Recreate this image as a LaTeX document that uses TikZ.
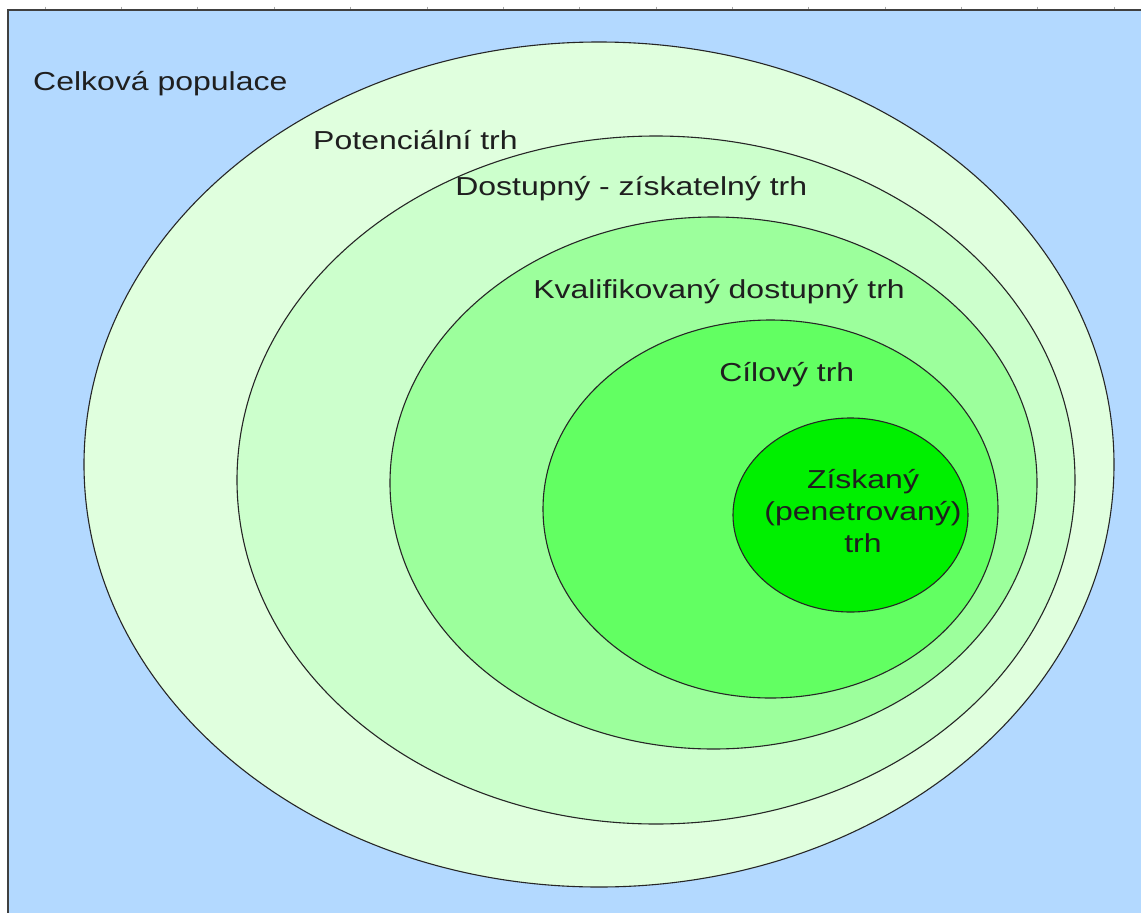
\documentclass[tikz,border=0pt]{standalone}
\usepackage{fontspec}
\setmainfont{Liberation Sans}
\usepackage{xcolor}
\usepackage{tikz}

\definecolor{popblue}{RGB}{179,217,255}
\definecolor{trhA}{RGB}{224,255,222}
\definecolor{trhB}{RGB}{204,255,204}
\definecolor{trhC}{RGB}{156,255,156}
\definecolor{trhD}{RGB}{98,255,98}
\definecolor{trhE}{RGB}{0,240,0}

\begin{document}
\begin{tikzpicture}[x=1pt,y=-1pt,
        ring/.style={draw=black!85,line width=1.1pt},
        lbl/.style={anchor=base west,inner sep=0pt,text=black!88,
            font=\fontsize{26}{32}\selectfont,xscale=1.23}]
    \useasboundingbox (0,0) rectangle (1141,913);
    \clip (0,0) rectangle (1141,913);

    % ruler ticks and frame
    \foreach \k in {0,...,14}
        \draw[black!35,line width=0.6pt] ({45+76.36*\k},6.5)--({45+76.36*\k},10);
    \draw[fill=popblue,draw=black!75,line width=1.2pt] (8,10) rectangle (1170,940);

    % nested markets
    \draw[ring,fill=trhA] (599,464.5) ellipse [x radius=515, y radius=422.5];
    \draw[ring,fill=trhB] (656,480) ellipse [x radius=419, y radius=344];
    \draw[ring,fill=trhC] (713.5,483) ellipse [x radius=323.5, y radius=266];
    \draw[ring,fill=trhD] (770.5,509) ellipse [x radius=227.5, y radius=189];
    \draw[ring,fill=trhE] (850.5,515) ellipse [x radius=117.5, y radius=97];

    \node[lbl] (celkova) at (33,90) {Celková populace};
    \node[lbl] (potencialni) at (313,149) {Potenciální trh};
    \node[lbl] (dostupny) at (455,195) {Dostupný - získatelný trh};
    \node[lbl] (kvalifikovany) at (533,298) {Kvalifikovaný dostupný trh};
    \node[lbl] (cilovy) at (719,381) {Cílový trh};
    \node[lbl,anchor=center,align=center] (ziskany) at (863,511)
        {Získaný\\(penetrovaný)\\trh};
\end{tikzpicture}
\end{document}
